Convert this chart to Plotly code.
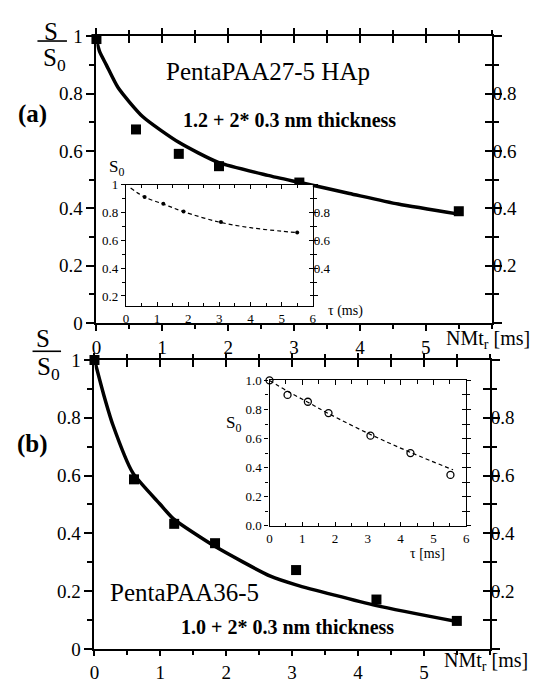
import plotly.graph_objects as go

W, H = 539, 690
FONT = "Liberation Serif, Times New Roman, serif"

# ---------------- data ----------------
# panel (a) main: S/S0 vs NMt_r [ms]
a_t = [0, 0.6, 1.25, 1.86, 3.08, 5.5]
a_ratio = [0.99, 0.675, 0.59, 0.547, 0.49, 0.39]
a_fit_t = [0, 0.05, 0.15, 0.33, 0.7, 1.25, 1.85, 2.6, 3.09, 3.84, 4.58, 5.5]
a_fit_ratio = [0.985, 0.945, 0.9, 0.82, 0.72, 0.63, 0.56, 0.515, 0.49, 0.452, 0.415, 0.38]

# panel (a) inset: S0 vs tau (ms)
ai_tau = [0.6, 1.2, 1.85, 3.05, 5.5]
ai_s0 = [0.91, 0.862, 0.806, 0.731, 0.655]
ai_fit_tau = [0.15, 0.6, 1.2, 1.85, 3.0, 4.0, 5.0, 5.5]
ai_fit_s0 = [0.975, 0.91, 0.86, 0.805, 0.73, 0.69, 0.665, 0.655]

# panel (b) main
b_t = [0, 0.6, 1.21, 1.83, 3.06, 4.28, 5.5]
b_ratio = [1.0, 0.587, 0.433, 0.366, 0.273, 0.171, 0.097]
b_fit_t = [0, 0.14, 0.28, 0.58, 1.0, 1.2, 1.82, 2.67, 3.06, 4.28, 5.5]
b_fit_ratio = [1.0, 0.88, 0.775, 0.61, 0.5, 0.45, 0.356, 0.252, 0.222, 0.15, 0.095]

# panel (b) inset
bi_tau = [0, 0.55, 1.17, 1.8, 3.08, 4.3, 5.52]
bi_s0 = [1.0, 0.9, 0.853, 0.775, 0.62, 0.5, 0.35]
bi_fit_tau = [0, 0.55, 1.17, 1.8, 3.08, 4.3, 5.6]
bi_fit_s0 = [1.0, 0.925, 0.85, 0.772, 0.628, 0.505, 0.385]

main_xticks = [0, 1, 2, 3, 4, 5]
main_yticks = [0, 0.2, 0.4, 0.6, 0.8, 1.0]
main_ylabels = ["0", "0.2", "0.4", "0.6", "0.8", "1"]
main_rticks = [0.2, 0.4, 0.6, 0.8]
main_rlabels = ["0.2", "0.4", "0.6", "0.8"]
inset_xticks = [0, 1, 2, 3, 4, 5, 6]
ai_yticks = [0.2, 0.4, 0.6, 0.8, 1.0]
ai_ylabels = ["0.2", "0.4", "0.6", "0.8", "1"]
ai_rticks = [0.4, 0.6, 0.8]
ai_rlabels = ["0.4", "0.6", "0.8"]
bi_yticks = [0, 0.2, 0.4, 0.6, 0.8, 1.0]
bi_ylabels = ["0.0", "0.2", "0.4", "0.6", "0.8", "1.0"]

half_steps = [i * 0.5 for i in range(13)]
tenth_steps = [round(i * 0.1, 2) for i in range(11)]


def dx(a, b):
    return [a / W, b / W]


def dy(top, bottom):
    return [1 - bottom / H, 1 - top / H]


def px(x):
    return x / W


def py(y):
    return 1 - y / H


fig = go.Figure()


def build(idx, xdom, ydom, xr, yr, lw, fs, bottom, left, top, right):
    xa = f"xaxis{'' if idx == 1 else idx}"
    ya = f"yaxis{'' if idx == 1 else idx}"
    xa2 = f"xaxis{idx + 1}"
    ya2 = f"yaxis{idx + 1}"
    xid = "x" if idx == 1 else f"x{idx}"
    yid = "y" if idx == 1 else f"y{idx}"
    common = dict(showgrid=False, zeroline=False, tickcolor="black", tickwidth=max(1, lw * 0.75),
                  linecolor="black", linewidth=lw,
                  tickfont=dict(family=FONT, size=fs, color="black"), fixedrange=True)
    fig.layout[xa] = dict(common, domain=xdom, range=xr, anchor=yid, side="bottom",
                          showline=True, mirror="all", **bottom)
    fig.layout[ya] = dict(common, domain=ydom, range=yr, anchor=xid, side="left",
                          showline=True, mirror="all", **left)
    fig.layout[xa2] = dict(common, domain=xdom, range=xr, anchor=yid, overlaying=xid, side="top",
                           showline=False, **top)
    fig.layout[ya2] = dict(common, domain=ydom, range=yr, anchor=xid, overlaying=yid, side="right",
                           showline=False, **right)
    fig.add_trace(go.Scatter(x=[xr[0]], y=[yr[0]], xaxis=f"x{idx + 1}", yaxis=f"y{idx + 1}",
                             mode="markers", marker=dict(opacity=0),
                             showlegend=False, hoverinfo="skip"))


def minor(vals, ticks, ln):
    return dict(tickmode="array", tickvals=vals, ticks=ticks, ticklen=ln,
                tickcolor="black")


# main (a)
build(1, dx(93, 495), dy(27, 323), [0, 6], [0, 1], 2, 19,
      bottom=dict(tickmode="array", tickvals=main_xticks, ticktext=[str(v) for v in main_xticks],
                  ticks="outside", ticklen=6, minor=minor(half_steps, "outside", 4)),
      left=dict(tickmode="array", tickvals=main_yticks, ticktext=main_ylabels,
                ticks="outside", ticklen=8, minor=minor(tenth_steps, "outside", 5)),
      top=dict(tickmode="array", tickvals=half_steps, ticks="inside", ticklen=7,
               showticklabels=False),
      right=dict(tickmode="array", tickvals=main_rticks, ticktext=main_rlabels,
                 ticks="inside", ticklen=7, minor=minor(tenth_steps, "inside", 7)))

# main (b)
build(3, dx(91, 493), dy(361, 659), [0, 6], [0, 1], 2, 19,
      bottom=dict(tickmode="array", tickvals=main_xticks, ticktext=[str(v) for v in main_xticks],
                  ticks="outside", ticklen=5, minor=minor(half_steps, "outside", 4)),
      left=dict(tickmode="array", tickvals=main_yticks, ticktext=main_ylabels,
                ticks="outside", ticklen=8, minor=minor(tenth_steps, "outside", 5)),
      top=dict(tickmode="array", tickvals=half_steps, ticks="inside", ticklen=7,
               showticklabels=False),
      right=dict(tickmode="array", tickvals=main_rticks, ticktext=main_rlabels,
                 ticks="inside", ticklen=7, minor=minor(tenth_steps, "inside", 7)))

# inset (a)
build(5, dx(123, 313), dy(180, 305), [0, 6], [0.13, 1.0], 1.4, 13,
      bottom=dict(tickmode="array", tickvals=inset_xticks, ticktext=[str(v) for v in inset_xticks],
                  ticks="inside", ticklen=4, minor=minor(half_steps, "inside", 3)),
      left=dict(tickmode="array", tickvals=ai_yticks, ticktext=ai_ylabels,
                ticks="outside", ticklen=4, minor=minor(tenth_steps, "outside", 3)),
      top=dict(tickmode="array", tickvals=half_steps, ticks="inside", ticklen=3,
               showticklabels=False),
      right=dict(tickmode="array", tickvals=ai_rticks, ticktext=ai_rlabels,
                 ticks="inside", ticklen=4, minor=minor(tenth_steps, "inside", 3)))

# inset (b)
build(7, dx(269, 469), dy(382, 532), [0, 6], [0, 1.0], 1.4, 13,
      bottom=dict(tickmode="array", tickvals=inset_xticks, ticktext=[str(v) for v in inset_xticks],
                  ticks="inside", ticklen=4, minor=minor(half_steps, "inside", 3)),
      left=dict(tickmode="array", tickvals=bi_yticks, ticktext=bi_ylabels,
                ticks="outside", ticklen=4, minor=minor(tenth_steps, "outside", 3)),
      top=dict(tickmode="array", tickvals=half_steps, ticks="inside", ticklen=3,
               showticklabels=False),
      right=dict(tickmode="array", tickvals=tenth_steps, ticks="inside", ticklen=4,
                 showticklabels=False))

# traces
fig.add_trace(go.Scatter(x=a_fit_t, y=a_fit_ratio, mode="lines", xaxis="x", yaxis="y",
                         line=dict(color="black", width=3.5, shape="spline", smoothing=0.6),
                         showlegend=False, cliponaxis=False))
fig.add_trace(go.Scatter(x=a_t, y=a_ratio, mode="markers", xaxis="x", yaxis="y",
                         marker=dict(symbol="square", size=10, color="black"),
                         showlegend=False, cliponaxis=False))
fig.add_trace(go.Scatter(x=b_fit_t, y=b_fit_ratio, mode="lines", xaxis="x3", yaxis="y3",
                         line=dict(color="black", width=3.5, shape="spline", smoothing=0.6),
                         showlegend=False, cliponaxis=False))
fig.add_trace(go.Scatter(x=b_t, y=b_ratio, mode="markers", xaxis="x3", yaxis="y3",
                         marker=dict(symbol="square", size=10, color="black"),
                         showlegend=False, cliponaxis=False))
fig.add_trace(go.Scatter(x=ai_fit_tau, y=ai_fit_s0, mode="lines", xaxis="x5", yaxis="y5",
                         line=dict(color="black", width=1.2, dash="4px,3px", shape="spline"),
                         showlegend=False))
fig.add_trace(go.Scatter(x=ai_tau, y=ai_s0, mode="markers", xaxis="x5", yaxis="y5",
                         marker=dict(symbol="circle", size=4, color="black"),
                         showlegend=False))
fig.add_trace(go.Scatter(x=bi_fit_tau, y=bi_fit_s0, mode="lines", xaxis="x7", yaxis="y7",
                         line=dict(color="black", width=1.2, dash="4px,3px", shape="spline"),
                         showlegend=False))
fig.add_trace(go.Scatter(x=bi_tau, y=bi_s0, mode="markers", xaxis="x7", yaxis="y7",
                         marker=dict(symbol="circle-open", size=7, color="black",
                                     line=dict(width=1.3, color="black")),
                         showlegend=False, cliponaxis=False))


def txt(x, y, s, size, bold=False, xanchor="center"):
    if bold:
        s = f"<b>{s}</b>"
    fig.add_annotation(x=px(x), y=py(y), xref="paper", yref="paper", text=s,
                       showarrow=False, xanchor=xanchor, yanchor="middle",
                       font=dict(family=FONT, size=size, color="black"))


# fraction labels
txt(47, 22, "S", 25)
txt(50, 51, "S<sub>0</sub>", 25)
txt(39, 339, "S", 25)
txt(44, 370, "S<sub>0</sub>", 25)
fig.add_shape(type="line", xref="paper", yref="paper", x0=px(33), x1=px(63), y0=py(32), y1=py(32),
              line=dict(color="black", width=1.6))
fig.add_shape(type="line", xref="paper", yref="paper", x0=px(28), x1=px(57), y0=py(352), y1=py(352),
              line=dict(color="black", width=1.6))

txt(28, 107, "(a)", 25, bold=True)
txt(28, 448, "(b)", 25, bold=True)
txt(267, 63, "PentaPAA27-5 HAp", 25)
txt(289, 113, "1.2 + 2* 0.3 nm thickness", 20, bold=True)
txt(183, 601, "PentaPAA36-5", 25)
txt(287, 636, "1.0 + 2* 0.3 nm thickness", 20, bold=True)
txt(446, 340, "NMt<sub>r</sub> [ms]", 20, xanchor="left")
txt(444, 672, "NMt<sub>r</sub> [ms]", 20, xanchor="left")
txt(113, 163, "S<sub>0</sub>", 17)
txt(346, 310, "τ (ms)", 14)
txt(232, 427, "S<sub>0</sub>", 17)
txt(430, 561, "τ [ms]", 14)

fig.update_layout(width=W, height=H, margin=dict(l=0, r=0, t=0, b=0),
                  font=dict(family=FONT, color="black"),
                  paper_bgcolor="white", plot_bgcolor="white", showlegend=False)

fig.write_html("out.html")
